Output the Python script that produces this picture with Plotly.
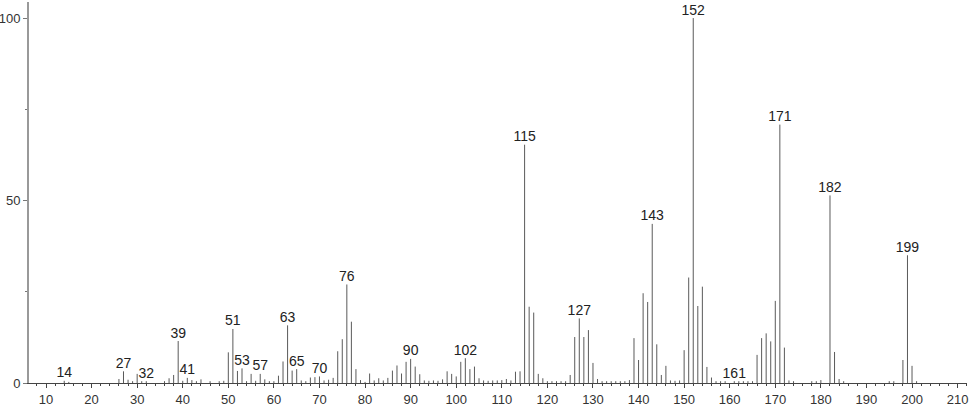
import plotly.graph_objects as go

mz = [14, 15, 26, 27, 28, 29, 30, 31, 32, 36, 37, 38, 39, 40, 41, 42, 43, 44, 46, 48, 49,
      50, 51, 52, 53, 54, 55, 56, 57, 58, 59, 60, 61, 62, 63, 64, 65, 66, 67, 68, 69,
      70, 71, 72, 73, 74, 75, 76, 77, 78, 79, 80, 81, 82, 83, 84, 85, 86, 87, 88, 89,
      90, 91, 92, 93, 94, 95, 96, 97, 98, 99, 100, 101, 102, 103, 104, 105, 106, 107, 108, 109,
      110, 111, 112, 113, 114, 115, 116, 117, 118, 119, 120, 121, 122, 123, 124, 125, 126, 127, 128, 129,
      130, 131, 132, 133, 134, 135, 136, 137, 138, 139, 140, 141, 142, 143, 144, 145, 146, 147, 148, 149,
      150, 151, 152, 153, 154, 155, 156, 157, 158, 159, 161, 162, 163, 164, 165, 166, 167, 168, 169,
      170, 171, 172, 173, 174, 178, 179, 180, 182, 183, 184, 185, 195, 196, 198, 199, 200, 201]
intensity = [0.6, 0.3, 1.1, 3.2, 0.9, 0.5, 2.5, 0.5, 0.5, 0.5, 1.3, 2.2, 11.5, 0.6, 1.4, 0.8, 0.5, 1.0, 0.5, 0.5, 0.6,
             8.4, 14.8, 3.3, 4.0, 0.5, 2.5, 0.6, 2.5, 1.0, 0.5, 0.5, 2.0, 5.9, 15.8, 3.4, 3.8, 0.7, 0.5, 1.5, 1.6,
             1.8, 0.7, 0.9, 1.4, 8.7, 12.0, 27.0, 16.8, 3.8, 0.8, 0.3, 2.6, 0.7, 1.3, 0.7, 1.4, 3.4, 4.8, 2.6, 5.8,
             6.6, 4.5, 2.4, 0.7, 0.6, 0.7, 0.6, 1.0, 3.2, 2.5, 1.8, 5.8, 6.8, 3.8, 4.5, 1.3, 0.7, 0.6, 0.7, 0.7,
             0.8, 1.1, 0.7, 3.1, 3.2, 65.3, 20.9, 19.3, 2.5, 1.3, 0.5, 0.5, 0.5, 0.5, 0.5, 2.2, 12.6, 17.7, 12.6, 14.5,
             5.5, 1.1, 0.5, 0.5, 0.5, 0.5, 0.5, 0.5, 0.8, 12.3, 6.3, 24.6, 22.2, 43.6, 10.6, 2.2, 4.7, 0.7, 0.6, 0.7,
             9.0, 28.9, 100.0, 21.1, 26.4, 4.4, 1.5, 0.5, 0.5, 0.5, 0.5, 0.5, 0.5, 0.5, 0.5, 7.7, 12.3, 13.6, 11.4,
             22.5, 70.8, 9.7, 0.7, 0.5, 0.5, 0.5, 0.8, 51.4, 8.5, 1.1, 0.5, 0.5, 0.5, 6.3, 35.0, 4.7, 0.5]

labeled_mz = [14, 27, 32, 39, 41, 51, 53, 57, 63, 65, 70, 76, 90, 102, 115, 127, 143, 152, 161, 171, 182, 199]

x_tick_vals = list(range(10, 211, 10))
y_tick_vals = [0, 50, 100]

FONT = "Liberation Sans"

# stick spectrum
xs, ys = [], []
for m, v in zip(mz, intensity):
    xs += [m, m, None]
    ys += [0, v, None]

lookup = dict(zip(mz, intensity))
lab_x = labeled_mz
lab_y = [lookup[m] for m in labeled_mz]
lab_t = [str(m) for m in labeled_mz]

fig = go.Figure()
fig.add_trace(go.Scatter(x=xs, y=ys, mode="lines", line=dict(color="#5a5a5a", width=1),
                         hoverinfo="skip", showlegend=False))
fig.add_trace(go.Scatter(x=lab_x, y=lab_y, mode="text", text=lab_t, textposition="top center",
                         textfont=dict(family=FONT, size=14, color="#222"), cliponaxis=False,
                         hoverinfo="skip", showlegend=False))

fig.update_layout(
    width=974, height=406,
    margin=dict(l=29, r=7, t=2, b=23, autoexpand=False),
    paper_bgcolor="white", plot_bgcolor="white",
    font=dict(family=FONT, size=13, color="#333"),
    xaxis=dict(range=[6.27, 212.06], tickvals=x_tick_vals, ticktext=[str(v) for v in x_tick_vals],
               automargin=False,
               showgrid=False, zeroline=False, showline=True, linecolor="#444", linewidth=1,
               ticks="outside", ticklen=4, tickcolor="#444", tickwidth=1,
               minor=dict(dtick=2, tick0=0, ticks="outside", ticklen=2, tickcolor="#444", showgrid=False),
               tickfont=dict(family=FONT, size=13, color="#333")),
    yaxis=dict(range=[0, 104.4], tickvals=y_tick_vals, ticktext=[str(v) for v in y_tick_vals],
               automargin=False,
               showgrid=False, zeroline=False, showline=True, linecolor="#999", linewidth=2,
               ticks="outside", ticklen=4, tickcolor="#777", tickwidth=1,
               minor=dict(tickvals=[25, 75], ticks="outside", ticklen=2, tickcolor="#777", showgrid=False),
               tickfont=dict(family=FONT, size=13, color="#333")),
)

fig.write_html("out.html", config={"displayModeBar": False},
               post_script="document.body.style.margin='0';document.body.style.overflow='hidden';")
